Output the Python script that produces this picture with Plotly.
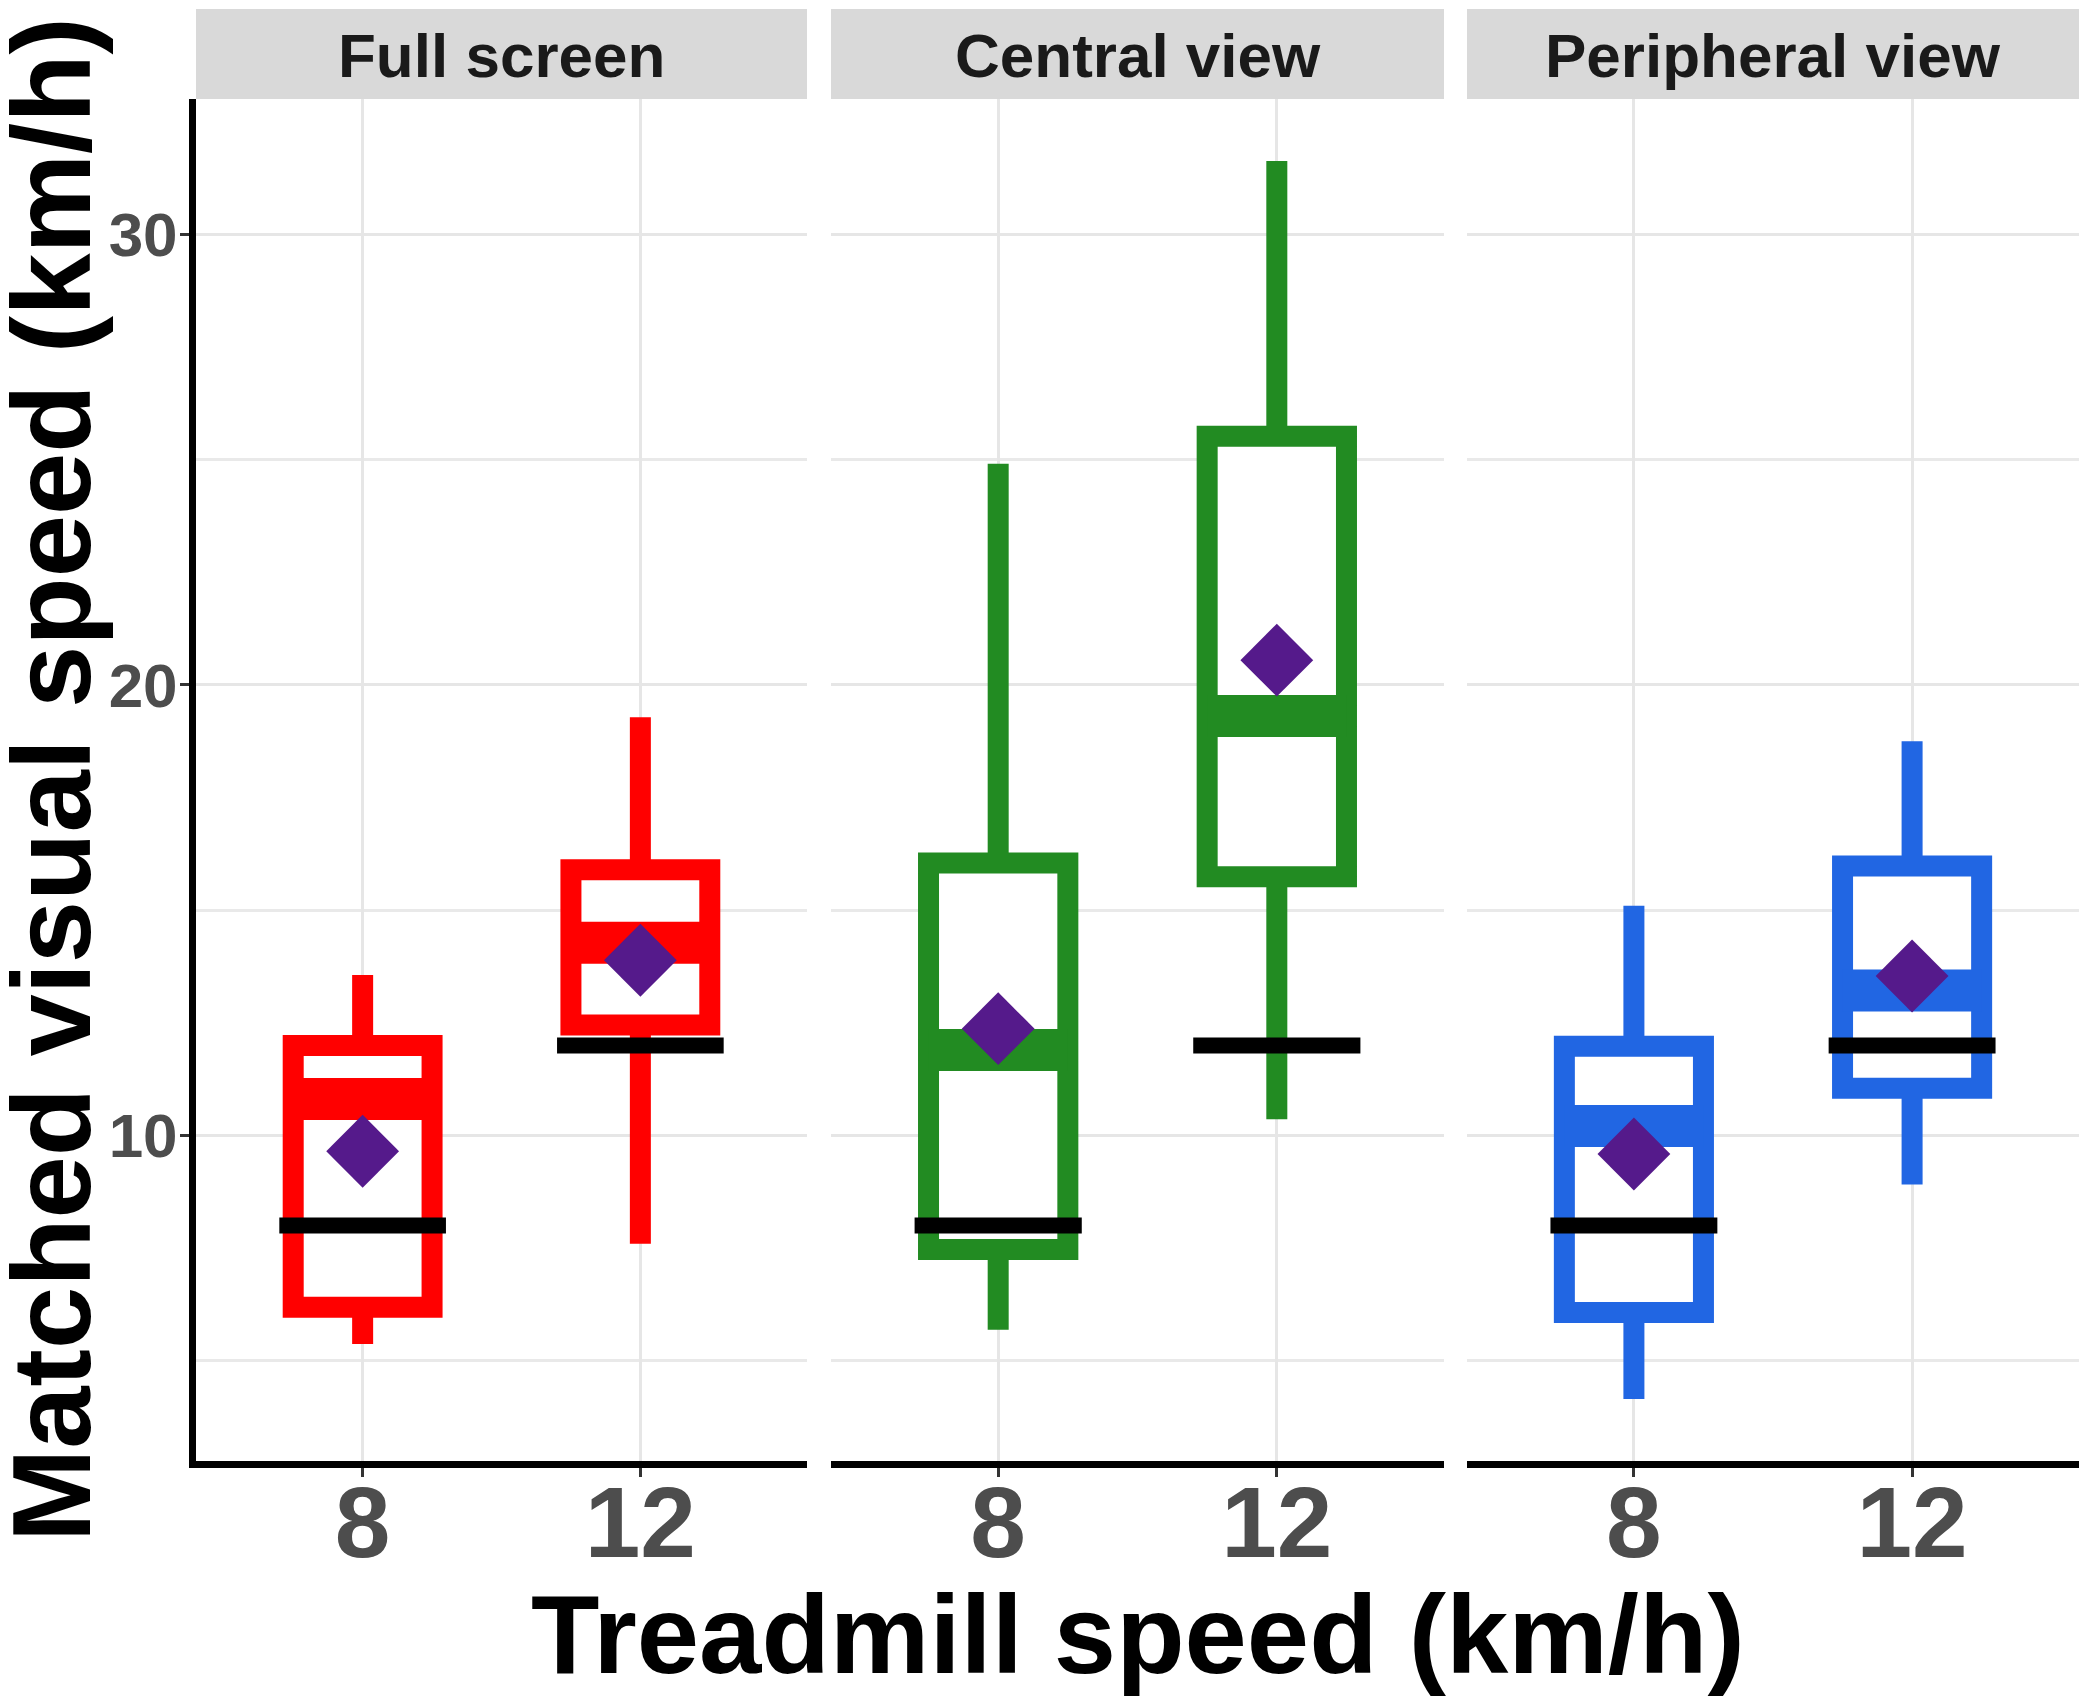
import plotly.graph_objects as go

# data
conditions = ["Full screen", "Central view", "Peripheral view"]
speeds = [8, 12]
colors = ["#FF0000", "#228B22", "#2166E3"]

full_low = [5.37, 7.60]
full_q1 = [6.19, 12.45]
full_med = [10.81, 14.28]
full_q3 = [12.00, 15.90]
full_high = [13.56, 19.28]
full_mean = [9.65, 13.89]

central_low = [5.69, 10.36]
central_q1 = [7.47, 15.74]
central_med = [11.90, 19.31]
central_q3 = [16.05, 25.52]
central_high = [24.91, 31.63]
central_mean = [12.37, 20.55]

periph_low = [4.15, 8.91]
periph_q1 = [6.07, 11.05]
periph_med = [10.21, 13.22]
periph_q3 = [11.98, 15.98]
periph_high = [15.10, 18.75]
periph_mean = [9.59, 13.54]

stats = [
    (full_low, full_q1, full_med, full_q3, full_high, full_mean),
    (central_low, central_q1, central_med, central_q3, central_high, central_mean),
    (periph_low, periph_q1, periph_med, periph_q3, periph_high, periph_mean),
]

W, H = 2089, 1705
pos = [1, 2]          # positions of the two speeds on each panel
box_w = 0.5
ref_w = 0.6

# panel geometry in pixels
panels_px = [(196, 807), (831, 1444), (1467, 2079)]
top_px, bottom_px = 99, 1461
strip_top_px = 9

ydom = [1 - bottom_px / H, 1 - top_px / H]

allv = [v for s in stats for arr in s for v in arr]
lo, hi = min(allv), max(allv)
pad = (hi - lo) * 0.05
yrange = [lo - pad, hi + pad]

fig = go.Figure()

for i, (cond, col, st) in enumerate(zip(conditions, colors, stats)):
    low, q1, med, q3, high, mean = st
    xa = "x" if i == 0 else "x%d" % (i + 1)
    ya = "y" if i == 0 else "y%d" % (i + 1)

    fig.add_trace(go.Box(
        x=pos, q1=q1, median=med, q3=q3, lowerfence=low, upperfence=high,
        width=box_w, whiskerwidth=0, fillcolor="white",
        line=dict(color=col, width=21), xaxis=xa, yaxis=ya,
        showlegend=False, hoverinfo="skip", boxpoints=False,
    ))

    # thicker median line like ggplot
    mx, my = [], []
    for p, m in zip(pos, med):
        mx += [p - box_w / 2, p + box_w / 2, None]
        my += [m, m, None]
    fig.add_trace(go.Scatter(x=mx, y=my, mode="lines", line=dict(color=col, width=42),
                             xaxis=xa, yaxis=ya, showlegend=False, hoverinfo="skip"))

    # treadmill speed reference lines
    rx, ry = [], []
    for p, s in zip(pos, speeds):
        rx += [p - ref_w / 2, p + ref_w / 2, None]
        ry += [s, s, None]
    fig.add_trace(go.Scatter(x=rx, y=ry, mode="lines", line=dict(color="black", width=16),
                             xaxis=xa, yaxis=ya, showlegend=False, hoverinfo="skip"))

    # means
    fig.add_trace(go.Scatter(x=pos, y=mean, mode="markers",
                             marker=dict(symbol="diamond", size=56, color="#551A8B", line=dict(width=0)),
                             xaxis=xa, yaxis=ya, showlegend=False, hoverinfo="skip"))

    x0, x1 = panels_px[i]
    dom = [x0 / W, x1 / W]
    xkey = "xaxis" if i == 0 else "xaxis%d" % (i + 1)
    ykey = "yaxis" if i == 0 else "yaxis%d" % (i + 1)
    fig.layout[xkey] = dict(
        domain=dom, anchor=ya, range=[0.4, 2.6], tickvals=pos, ticktext=[str(s) for s in speeds],
        showgrid=True, gridcolor="#E6E6E6", gridwidth=3, zeroline=False,
        showline=True, linecolor="black", linewidth=7,
        ticks="outside", ticklen=9, tickwidth=3, tickcolor="#333333",
        tickfont=dict(family="Liberation Sans", size=100, color="#4D4D4D", weight="bold"),
        ticklabelstandoff=-40,
    )
    ydict = dict(
        domain=ydom, anchor=xa, range=yrange, tickvals=[10, 20, 30],
        showgrid=True, gridcolor="#E6E6E6", gridwidth=3, zeroline=False,
        minor=dict(dtick=5, tick0=0, showgrid=True, gridcolor="#E9E9E9", gridwidth=2.5),
    )
    if i == 0:
        ydict.update(showline=True, linecolor="black", linewidth=7,
                     ticks="outside", ticklen=9, tickwidth=3, tickcolor="#333333",
                     tickfont=dict(family="Liberation Sans", size=62, color="#4D4D4D", weight="bold"),
                     ticklabelstandoff=-10)
    else:
        ydict.update(showticklabels=False, showline=False, ticks="")
    fig.layout[ykey] = ydict

    # facet strip
    fig.add_shape(type="rect", xref="paper", yref="paper",
                  x0=dom[0], x1=dom[1], y0=1 - top_px / H, y1=1 - strip_top_px / H,
                  fillcolor="#D9D9D9", line=dict(width=0), layer="below")
    fig.add_annotation(text=cond, xref="paper", yref="paper",
                       x=(dom[0] + dom[1]) / 2, y=1 - (top_px + strip_top_px + 4) / 2 / H,
                       xanchor="center", yanchor="middle", showarrow=False,
                       font=dict(family="Liberation Sans", size=62, color="#1A1A1A", weight="bold"))

# axis titles
fig.add_annotation(text="Treadmill speed (km/h)", xref="paper", yref="paper",
                   x=(panels_px[0][0] + panels_px[2][1]) / 2 / W, y=1 - 1634 / H,
                   xanchor="center", yanchor="middle", showarrow=False,
                   font=dict(family="Liberation Sans", size=112, color="black", weight="bold"))
fig.add_annotation(text="Matched visual speed (km/h)", xref="paper", yref="paper",
                   x=51 / W, y=1 - (top_px + bottom_px) / 2 / H, textangle=-90,
                   xanchor="center", yanchor="middle", showarrow=False,
                   font=dict(family="Liberation Sans", size=112, color="black", weight="bold"))

fig.update_layout(
    width=W, height=H, margin=dict(l=0, r=0, t=0, b=0),
    paper_bgcolor="white", plot_bgcolor="white", showlegend=False,
)

fig.write_html("out.html", config={"displayModeBar": False},
               post_script="document.body.style.margin='0';")
